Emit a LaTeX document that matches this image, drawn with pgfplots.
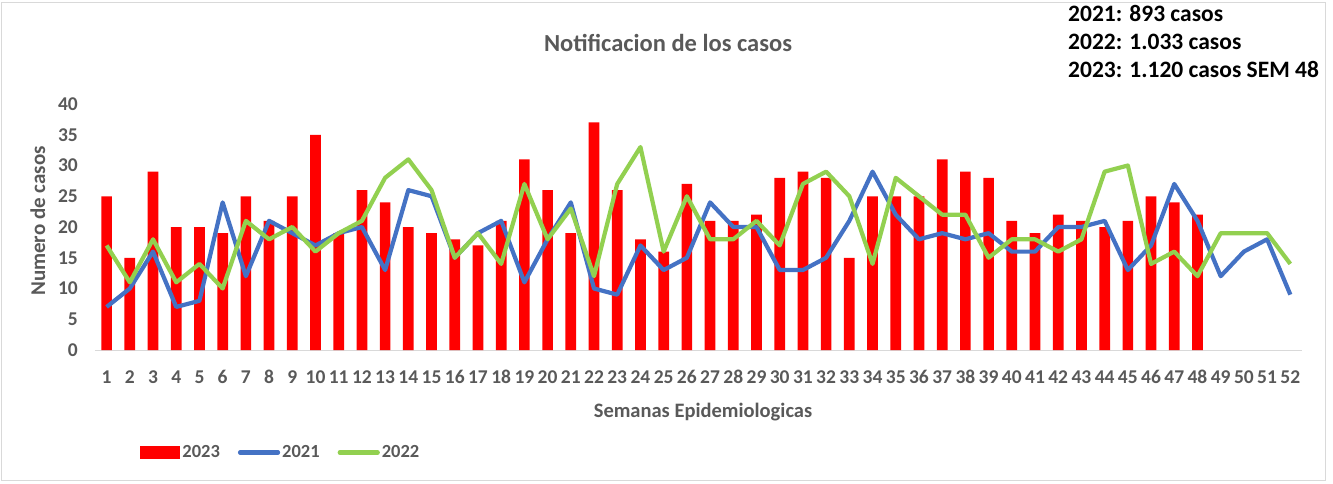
\documentclass[border=0pt]{standalone}
\usepackage{pgfplots}
\pgfplotsset{compat=1.18}
\usepackage{fontspec}
\setmainfont{Carlito}
\definecolor{txtgray}{HTML}{595959}
\definecolor{blue21}{HTML}{4472C4}
\definecolor{green22}{HTML}{92D050}
\definecolor{axgray}{HTML}{D9D9D9}
\definecolor{framegray}{HTML}{D9D9D9}
\begin{document}
\begin{tikzpicture}[x=1pt,y=1pt]
\path[use as bounding box] (0,0) rectangle (1333,483);
\draw[framegray, line width=0.8pt] (1,3) rectangle (1325,481);
\begin{axis}[
  at={(95pt,133pt)}, anchor=south west,
  scale only axis, width=1207pt, height=246pt,
  xmin=0.5, xmax=52.5, ymin=0, ymax=40,
  xtick={1,...,52}, ytick={0,5,...,40},
  axis x line*=bottom, axis y line*=left,
  separate axis lines,
  x axis line style={draw=axgray, line width=1pt, -},
  y axis line style={draw=none},
  major tick length=0pt,
  tick label style={font=\fontsize{19.5}{22}\selectfont\bfseries, text=txtgray, inner sep=0pt},
  /pgf/number format/assume math mode=true,
  xticklabel style={anchor=base, yshift=-33pt},
  yticklabel style={anchor=east, xshift=-17pt},
  clip=false,
  legend columns=3,
  legend style={at={(rel axis cs:0.035,-0.4167)}, anchor=west, draw=none, fill=none,
    font=\fontsize{18.5}{20}\selectfont\bfseries, text=txtgray,
    /tikz/every even column/.append style={column sep=16pt}},
  legend cell align=left,
]
\addplot[ybar, bar width=10.7pt, fill=red, draw=none,
  legend image code/.code={\fill[red] (0pt,-6.3pt) rectangle (40pt,6.3pt);}]
  coordinates {
(1,25)(2,15)(3,29)(4,20)(5,20)(6,19)(7,25)(8,21)(9,25)(10,35)
(11,19)(12,26)(13,24)(14,20)(15,19)(16,18)(17,17)(18,21)(19,31)(20,26)
(21,19)(22,37)(23,26)(24,18)(25,16)(26,27)(27,21)(28,21)(29,22)(30,28)
(31,29)(32,28)(33,15)(34,25)(35,25)(36,25)(37,31)(38,29)(39,28)(40,21)
(41,19)(42,22)(43,21)(44,20)(45,21)(46,25)(47,24)(48,22)};
\addlegendentry{2023}
\addplot[blue21, line width=4.2pt, line join=round, mark=none,
  legend image code/.code={\draw[blue21, line width=4.2pt, line cap=round] (2pt,0pt) -- (40pt,0pt);}]
  coordinates {
(1,7)(2,10)(3,16)(4,7)(5,8)(6,24)(7,12)(8,21)(9,19)(10,17)
(11,19)(12,20)(13,13)(14,26)(15,25)(16,15)(17,19)(18,21)(19,11)(20,18)
(21,24)(22,10)(23,9)(24,17)(25,13)(26,15)(27,24)(28,20)(29,20)(30,13)
(31,13)(32,15)(33,21)(34,29)(35,22)(36,18)(37,19)(38,18)(39,19)(40,16)
(41,16)(42,20)(43,20)(44,21)(45,13)(46,17)(47,27)(48,21)(49,12)(50,16)
(51,18)(52,9)};
\addlegendentry{2021}
\addplot[green22, line width=4.2pt, line join=round, mark=none,
  legend image code/.code={\draw[green22, line width=4.2pt, line cap=round] (2pt,0pt) -- (40pt,0pt);}]
  coordinates {
(1,17)(2,11)(3,18)(4,11)(5,14)(6,10)(7,21)(8,18)(9,20)(10,16)
(11,19)(12,21)(13,28)(14,31)(15,26)(16,15)(17,19)(18,14)(19,27)(20,18)
(21,23)(22,12)(23,27)(24,33)(25,16)(26,25)(27,18)(28,18)(29,21)(30,17)
(31,27)(32,29)(33,25)(34,14)(35,28)(36,25)(37,22)(38,22)(39,15)(40,18)
(41,18)(42,16)(43,18)(44,29)(45,30)(46,14)(47,16)(48,12)(49,19)(50,19)
(51,19)(52,14)};
\addlegendentry{2022}
\end{axis}
\node[font=\fontsize{24.5}{28}\selectfont\bfseries, text=txtgray, anchor=base] at (668,431) {Notificacion de los casos};
\node[font=\fontsize{20.5}{24}\selectfont\bfseries, text=txtgray, anchor=base] at (703,66) {Semanas Epidemiologicas};
\node[font=\fontsize{21}{24}\selectfont\bfseries, text=txtgray, rotate=90, anchor=base] at (45,262) {Numero de casos};
\node[font=\fontsize{23.5}{28}\selectfont\bfseries, anchor=base west, inner sep=0pt] at (1068,461) {2021: 893 casos};
\node[font=\fontsize{23.5}{28}\selectfont\bfseries, anchor=base west, inner sep=0pt] at (1068,433) {2022: 1.033 casos};
\node[font=\fontsize{23.5}{28}\selectfont\bfseries, anchor=base west, inner sep=0pt] at (1068,405) {2023: 1.120 casos SEM 48};
\end{tikzpicture}
\end{document}
